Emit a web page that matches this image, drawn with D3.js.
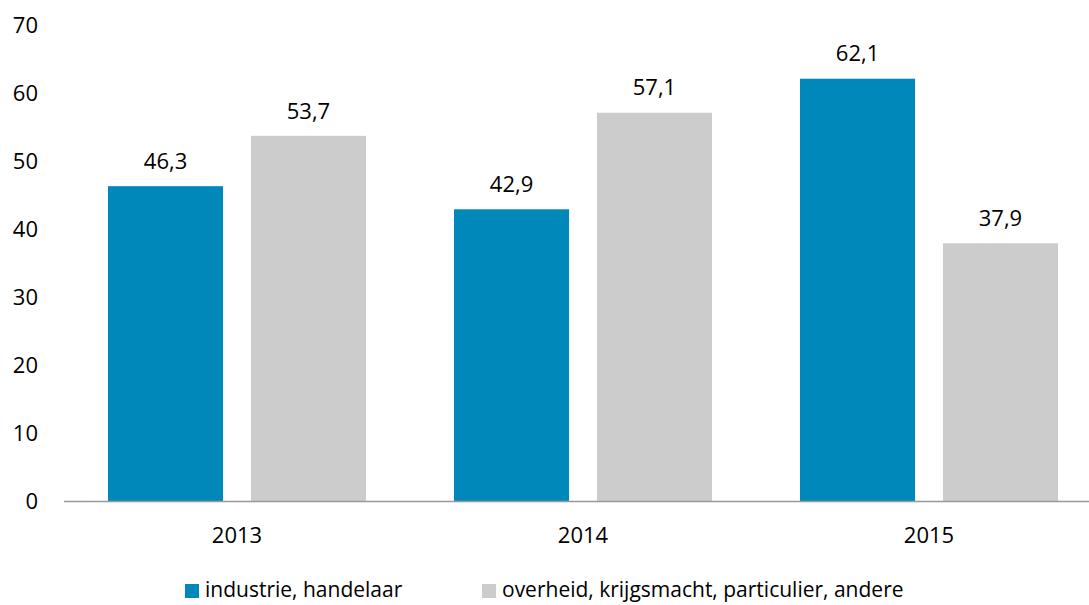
<!DOCTYPE html>
<html>
<head>
<meta charset="utf-8">
<script src="https://cdn.jsdelivr.net/npm/d3@7"></script>
<style>
  body { margin: 0; background: #fff; overflow: hidden; }
  text { font-family: "Open Sans", sans-serif; fill: #000; }
</style>
</head>
<body>
<div id="chart"></div>
<script>
var years = ["2013", "2014", "2015"];
var seriesNames = ["industrie, handelaar", "overheid, krijgsmacht, particulier, andere"];
var industrie = [46.3, 42.9, 62.1];
var overheid = [53.7, 57.1, 37.9];
var yTicks = [0, 10, 20, 30, 40, 50, 60, 70];
var colors = ["#0088bb", "#cccccc"];

var width = 1089, height = 605;
var svg = d3.select("#chart").append("svg")
    .attr("width", width)
    .attr("height", height)
    .style("display", "block");

var x = d3.scaleBand().domain(years).range([64, 1102]);
var xInner = d3.scaleBand().domain([0, 1])
    .range([44, x.bandwidth() - 44])
    .paddingInner(0.195);
var y = d3.scaleLinear().domain([0, 70]).range([501, 25]);

var fmt = function(v) { return d3.format(".1f")(v).replace(".", ","); };

// y tick labels
svg.append("g").selectAll("text")
    .data(yTicks)
    .enter().append("text")
    .attr("x", 38)
    .attr("y", function(d) { return y(d); })
    .attr("dy", "0.35em")
    .attr("text-anchor", "end")
    .style("font-size", "22px")
    .text(function(d) { return d; });

var data = [];
years.forEach(function(yr, i) {
    data.push({ year: yr, s: 0, v: industrie[i] });
    data.push({ year: yr, s: 1, v: overheid[i] });
});

var bars = svg.append("g");
bars.selectAll("rect")
    .data(data)
    .enter().append("rect")
    .attr("x", function(d) { return x(d.year) + xInner(d.s); })
    .attr("y", function(d) { return y(d.v); })
    .attr("width", xInner.bandwidth())
    .attr("height", function(d) { return y(0) - y(d.v); })
    .attr("fill", function(d) { return colors[d.s]; });

bars.selectAll("text")
    .data(data)
    .enter().append("text")
    .attr("x", function(d) { return x(d.year) + xInner(d.s) + xInner.bandwidth() / 2; })
    .attr("y", function(d) { return y(d.v) - 25; })
    .attr("dy", "0.35em")
    .attr("text-anchor", "middle")
    .style("font-size", "22px")
    .text(function(d) { return fmt(d.v); });

// x axis line
svg.append("line")
    .attr("x1", 64).attr("x2", 1089)
    .attr("y1", y(0) + 0.5).attr("y2", y(0) + 0.5)
    .attr("stroke", "#999")
    .attr("stroke-width", 1.5);

svg.append("g").selectAll("text")
    .data(years)
    .enter().append("text")
    .attr("x", function(d) { return x(d) + x.bandwidth() / 2; })
    .attr("y", 535)
    .attr("dy", "0.35em")
    .attr("text-anchor", "middle")
    .style("font-size", "22px")
    .text(function(d) { return d; });

// legend
var legendX = [185, 482];
var legend = svg.append("g").selectAll("g")
    .data(seriesNames)
    .enter().append("g")
    .attr("transform", function(d, i) { return "translate(" + legendX[i] + ",590)"; });
legend.append("rect")
    .attr("x", 0).attr("y", -6)
    .attr("width", 14).attr("height", 14)
    .attr("fill", function(d, i) { return colors[i]; });
legend.append("text")
    .attr("x", 20)
    .attr("dy", "0.35em")
    .style("font-size", "21px")
    .text(function(d) { return d; });
</script>
</body>
</html>
